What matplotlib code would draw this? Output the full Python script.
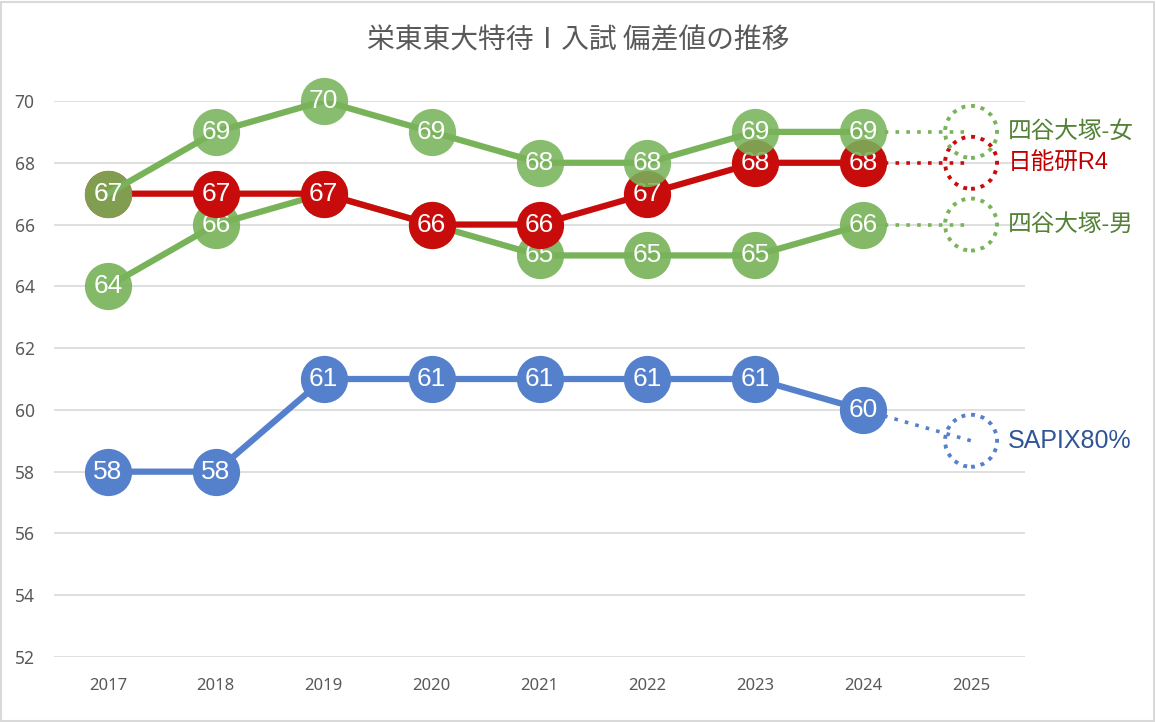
import matplotlib
matplotlib.use("Agg")
import matplotlib.pyplot as plt
from matplotlib.patches import Rectangle

plt.rcParams['font.family'] = ['Noto Sans CJK JP', 'DejaVu Sans']

years = ['2017', '2018', '2019', '2020', '2021', '2022', '2023', '2024', '2025']
yotsuya_f = [67, 69, 70, 69, 68, 68, 69, 69]
nichinoken = [67, 67, 67, 66, 66, 67, 68, 68]
yotsuya_m = [64, 66, 67, 66, 65, 65, 65, 66]
sapix = [58, 58, 61, 61, 61, 61, 61, 60]
forecast = {'四谷大塚-女': 69, '日能研R4': 68, '四谷大塚-男': 66, 'SAPIX80%': 59}
label_sizes = {'四谷大塚-女': 17, '日能研R4': 17, '四谷大塚-男': 17, 'SAPIX80%': 18}

title = '栄東東大特待Ⅰ入試 偏差値の推移'

GREEN = '#78b35a'
RED = '#c80c0c'
BLUE = '#5580cc'

series = [
    ('SAPIX80%', sapix, BLUE, '#2f5597', 1.0, 3),
    ('四谷大塚-男', yotsuya_m, GREEN, '#538135', 0.92, 4),
    ('日能研R4', nichinoken, RED, '#c00000', 1.0, 5),
    ('四谷大塚-女', yotsuya_f, GREEN, '#538135', 0.88, 6),
]

W, H = 1156, 722
fig = plt.figure(figsize=(W / 100, H / 100), dpi=100)
fig.patches.append(Rectangle((1 / W, 1 / H), 1 - 3 / W, 1 - 3 / H, transform=fig.transFigure,
                             fill=False, edgecolor='#d9d9d9', linewidth=1.5))

left, right = 54 / W, 1025 / W
bottom, top = 1 - 657 / H, 1 - 101 / H
ax = fig.add_axes([left, bottom, right - left, top - bottom])

x = list(range(len(years)))
ax.set_xlim(-0.5, len(years) - 0.5)
ax.set_ylim(52, 70)
ax.set_yticks(range(52, 71, 2))
ax.set_xticks(x)
ax.set_xticklabels(years)
ax.grid(axis='y', color='#d9d9d9', linewidth=1.2)
ax.set_axisbelow(True)
for s in ax.spines.values():
    s.set_visible(False)
ax.tick_params(length=0, labelsize=12, colors='#595959')
ax.tick_params(axis='x', pad=15)
ax.tick_params(axis='y', pad=14, labelsize=12.5)
for lab in ax.get_xticklabels() + ax.get_yticklabels():
    lab.set_family(['Noto Sans', 'DejaVu Sans'])

for name, vals, col, tcol, alpha, z in series:
    n = len(vals)
    ax.plot(x[:n], vals, color=col, linewidth=4.5, zorder=z, solid_capstyle='round')
    ax.plot([x[n - 1], x[n]], [vals[-1], forecast[name]], color=col, linewidth=2.6,
            linestyle=(0, (1, 2)), zorder=z)
    ax.plot(x[:n], vals, linestyle='none', marker='o', markersize=34,
            markerfacecolor=col, markeredgewidth=0, alpha=alpha, zorder=z + 0.1,
            clip_on=False)
    for xi, v in zip(x[:n], vals):
        ax.text(xi, v, str(v), ha='center', va='center', color='white', fontsize=19,
                family=['Liberation Sans', 'DejaVu Sans'], zorder=z + 0.2)
    ax.scatter([x[n]], [forecast[name]], s=(52 * 0.72) ** 2, facecolors='none',
               edgecolors=col, linewidths=2.8, linestyles=(0, (1, 1.5)), zorder=z, clip_on=False)
    ax.text(x[n] + 0.34, forecast[name], name, ha='left', va='center', color=tcol,
            fontsize=label_sizes[name], family=['Liberation Sans', 'Noto Sans CJK JP'], zorder=z)

fig.text(0.5, 1 - 40 / H, title, ha='center', va='center', fontsize=20, color='#595959')

fig.savefig('out.png', dpi=100)
